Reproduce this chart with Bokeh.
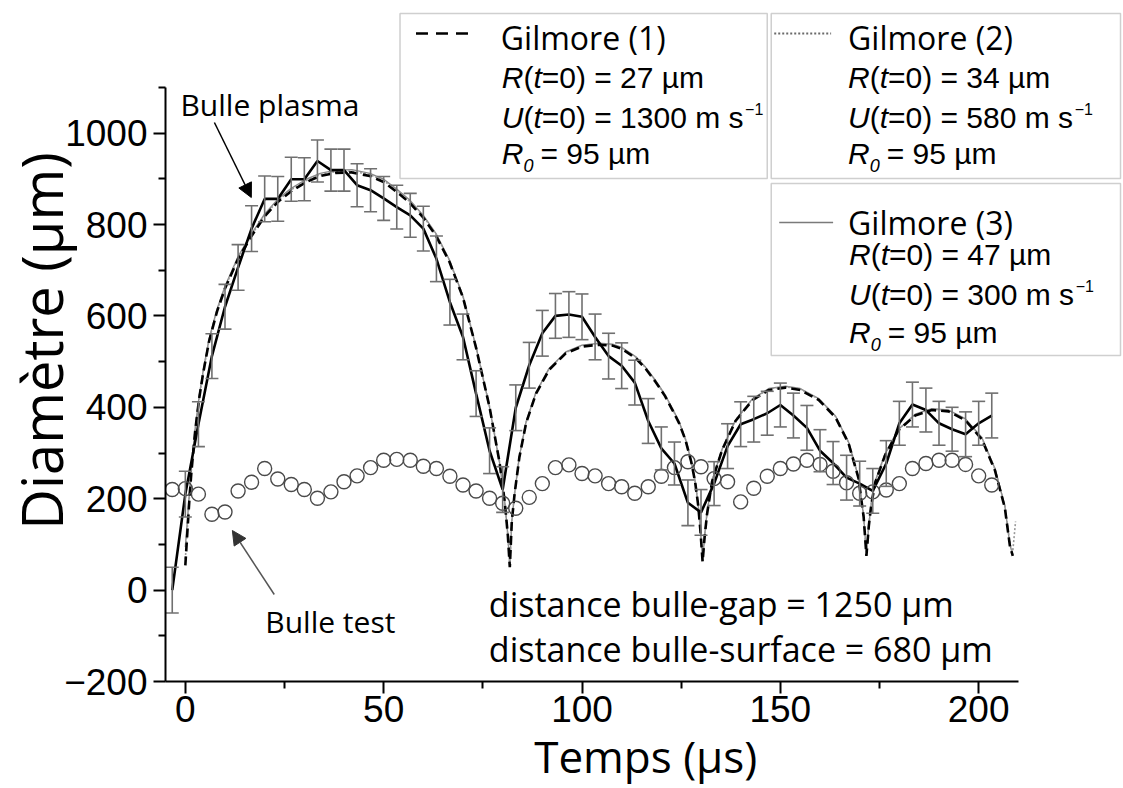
import math
from bokeh.plotting import figure
from bokeh.layouts import column
from bokeh.models import (Range1d, FixedTicker, Label, BoxAnnotation, Arrow,
                          NormalHead, Whisker, TeeHead, ColumnDataSource)
from bokeh.embed import file_html
from bokeh.resources import INLINE

# ---------------- data ----------------
t_frames = [-3.3, 0, 3.3, 6.7, 10, 13.3, 16.7, 20, 23.3, 26.7, 30, 33.3, 36.7, 40,
            43.3, 46.7, 50, 53.3, 56.7, 60, 63.3, 66.7, 70, 73.3, 76.7, 80, 83.3,
            86.7, 90, 93.3, 96.7, 100, 103.3, 106.7, 110, 113.3, 116.7, 120, 123.3,
            126.7, 130, 133.3, 136.7, 140, 143.3, 146.7, 150, 153.3, 156.7, 160,
            163.3, 166.7, 170, 173.3, 176.7, 180, 183.3, 186.7, 190, 193.3, 196.7,
            200, 203.3]

d_plasma = [0, 210, 363, 512, 620, 706, 791, 856, 856, 899, 899, 939, 919, 919, 886,
            875, 857, 838, 820, 791, 725, 630, 554, 430, 305, 220, 399, 492, 562, 600,
            603, 598, 554, 512, 491, 454, 370, 310, 277, 191, 170, 233, 315, 363, 374,
            387, 405, 382, 355, 305, 278, 246, 233, 217, 277, 365, 406, 394, 365, 352,
            341, 365, 382]

err_plasma = [50, 50, 49, 49, 49, 50, 50, 50, 49, 48, 47, 46, 46, 46, 47, 47, 48, 48,
              48, 49, 50, 50, 50, 50, 50, 50, 50, 50, 50, 49, 50, 50, 50, 50, 50, 49,
              49, 47, 47, 50, 50, 48, 49, 49, 50, 48, 48, 49, 49, 46, 47, 49, 49, 49,
              50, 48, 49, 48, 48, 48, 49, 48, 49]

d_test = [220, 222, 210, 166, 171, 217, 236, 266, 243, 231, 220, 201, 215, 237, 250,
          268, 284, 286, 284, 271, 266, 249, 230, 217, 201, 190, 179, 203, 233, 268,
          274, 255, 250, 233, 226, 212, 226, 249, 268, 281, 270, 244, 237, 193, 223,
          249, 266, 276, 284, 275, 260, 235, 212, 215, 219, 233, 266, 277, 284, 284,
          275, 250, 230]

t_gilmore = [0, 0.5, 1, 1.5, 2.5, 3.5, 4.5, 6, 8, 10, 13.3, 16.7, 20, 23.4, 26.7, 30.5,
             34, 38, 42, 46.5, 50, 53.2, 56.5, 60, 63.2, 66.6, 70, 73.3, 76.7, 79.2,
             80.5, 81.3, 81.8, 82.3, 83, 84.2, 85.9, 88.4, 91.7, 95.9, 100, 104.3,
             107.7, 110, 113.5, 116, 118.6, 120.9, 122.8, 124.5, 126.1, 127.5, 128.5,
             129.3, 129.9, 130.4, 130.9, 131.5, 132.8, 135.3, 138.7, 142.9, 147.1,
             151.3, 155, 159.7, 163.9, 167.2, 169.7, 171, 171.7, 172.3, 172.9, 173.9,
             176.4, 179.8, 184, 188.2, 192.4, 196.6, 200.8, 204.1, 206.6, 207.9, 208.6]

d_gilmore1 = [54, 125, 195, 255, 350, 420, 475, 545, 610, 660, 725, 775, 818, 850, 873,
              893, 906, 913, 914, 906, 893, 872, 848, 815, 775, 718, 640, 530, 400, 280,
              195, 120, 50, 150, 210, 290, 365, 430, 482, 518, 533, 537, 535, 528, 508,
              485, 455, 425, 394, 365, 328, 282, 238, 185, 125, 62, 115, 165, 238, 306,
              370, 415, 438, 443, 438, 416, 378, 321, 245, 160, 75, 140, 185, 235, 295,
              350, 382, 394, 391, 372, 330, 262, 180, 95, 75]

t_gilmore2 = t_gilmore + [209.3]
d_gilmore2 = [68, 135, 200, 260, 352, 422, 477, 547, 612, 662, 727, 777, 820, 853, 876,
              896, 909, 916, 917, 909, 896, 875, 851, 818, 778, 721, 643, 533, 402, 282,
              196, 121, 52, 152, 212, 292, 367, 432, 484, 520, 535, 539, 537, 530, 510,
              487, 457, 427, 396, 367, 330, 284, 240, 187, 127, 64, 117, 167, 240, 308,
              372, 417, 440, 445, 440, 418, 380, 323, 247, 162, 77, 142, 187, 237, 297,
              352, 384, 396, 393, 374, 333, 265, 185, 100, 85, 150]

d_gilmore3 = [94, 150, 210, 265, 355, 425, 480, 550, 615, 665, 730, 780, 823, 856, 879,
              899, 912, 919, 920, 912, 899, 878, 854, 820, 780, 722, 643, 532, 400, 280,
              195, 120, 55, 150, 210, 292, 368, 433, 485, 521, 536, 540, 538, 531, 511,
              488, 458, 428, 397, 368, 330, 284, 240, 186, 126, 64, 118, 168, 240, 308,
              372, 418, 441, 446, 441, 419, 381, 324, 247, 162, 78, 142, 188, 238, 298,
              352, 385, 397, 394, 375, 334, 266, 184, 98, 78]

x_major = [0, 50, 100, 150, 200]
x_minor = [25, 75, 125, 175]
y_major = [-200, 0, 200, 400, 600, 800, 1000]
y_minor = [-100, 100, 300, 500, 700, 900, 1100]

# ---------------- layout ----------------
W = 1122
ML = 163          # frame left (px)
FB = 681          # frame bottom (px)
H = 736           # main figure height (frame + tick labels)
H2 = 64           # strip below holding the x-axis title
OV = 14           # strip overlaps the (empty) bottom of the main figure
MB = H - FB
FW, FH = W - ML, FB
X0 = -5
X1 = X0 + FW / 3.975
Y0 = -200
Y1 = Y0 + FH / 0.457


def tx(px):
    """pixel -> data x (for placing annotations)"""
    return X0 + (px - ML) * (X1 - X0) / FW


def vy(py):
    """pixel -> data y (for placing annotations)"""
    return Y0 + (FH - py) * (Y1 - Y0) / FH


p = figure(width=W, height=H, x_range=Range1d(X0, X1), y_range=Range1d(Y0, Y1),
           output_backend="svg", toolbar_location=None, title=None)
p.min_border = 0
p.min_border_left = ML
p.min_border_bottom = MB
p.min_border_right = 0
p.min_border_top = 0
p.outline_line_color = None
p.grid.visible = False
p.background_fill_color = "white"

# axes
p.xaxis.ticker = FixedTicker(ticks=x_major, minor_ticks=x_minor)
p.yaxis.ticker = FixedTicker(ticks=y_major, minor_ticks=y_minor)
p.xaxis.bounds = (-5, 210)
p.yaxis.bounds = (-200, 1100)
for ax in (p.xaxis, p.yaxis):
    ax.axis_line_width = 2
    ax.axis_line_color = "black"
    ax.major_tick_line_width = 2
    ax.minor_tick_line_width = 2
    ax.major_tick_line_color = "black"
    ax.minor_tick_line_color = "black"
    ax.major_tick_out = 12
    ax.major_tick_in = 0
    ax.minor_tick_out = 7
    ax.minor_tick_in = 0
    ax.major_label_text_font = "Liberation Sans"
    ax.major_label_text_font_size = "37px"
    ax.major_label_text_color = "black"
    ax.axis_label_text_font = "Open Sans"
    ax.axis_label_text_font_style = "normal"
    ax.axis_label_text_color = "black"
p.yaxis.major_label_standoff = 6
p.xaxis.major_label_standoff = 2
p.yaxis.axis_label = "Diamètre (µm)"
p.yaxis.axis_label_text_font_size = "56px"
p.yaxis.axis_label_standoff = -18

# ---------------- marks ----------------
p.line(t_gilmore, d_gilmore3, line_color="#8a8a8a", line_width=1.4)
p.line(t_gilmore2, d_gilmore2, line_color="#9a9a9a", line_width=1.6, line_dash="2 2")
p.line(t_gilmore, d_gilmore1, line_color="black", line_width=2.6, line_dash="9 5")

src = ColumnDataSource(dict(
    t=t_frames,
    lo=[d - e for d, e in zip(d_plasma, err_plasma)],
    hi=[d + e for d, e in zip(d_plasma, err_plasma)],
))
p.add_layout(Whisker(source=src, base="t", lower="lo", upper="hi",
                     line_color="#707070", line_width=1.6,
                     upper_head=TeeHead(size=13, line_color="#707070", line_width=1.6),
                     lower_head=TeeHead(size=13, line_color="#707070", line_width=1.6),
                     level="glyph"))

p.line(t_frames, d_plasma, line_color="black", line_width=2.6)
p.scatter(t_frames, d_test, marker="circle", size=14, fill_alpha=0,
          line_color="#4a4a4a", line_width=1.4)

# legend sample lines
p.line([tx(414), tx(468)], [vy(33), vy(33)], line_color="black", line_width=2.6,
       line_dash="12 8")
p.line([tx(773), tx(830)], [vy(33), vy(33)], line_color="#6a6a6a", line_width=1.8,
       line_dash="2 2")
p.line([tx(778), tx(832)], [vy(222), vy(222)], line_color="#7a7a7a", line_width=1.6)

# legend boxes
for (l, r, t, b) in [(398, 766, 13, 178), (770, 1120, 13, 178), (770, 1120, 183, 355)]:
    p.add_layout(BoxAnnotation(left=tx(l), right=tx(r), top=vy(t), bottom=vy(b),
                               fill_alpha=0, line_color="#606060", line_width=1.5))


def lab(text, xp, yp, size, font="Open Sans", style="normal", align="left",
        angle=0.0, color="black"):
    p.add_layout(Label(x=tx(xp), y=vy(yp), text=text, text_font=font,
                       text_font_size=f"{size}px", text_font_style=style,
                       text_align=align, text_baseline="middle", angle=angle,
                       text_color=color))


ARIAL = {'=': 0.584, ')': 0.333, '(': 0.333, ' ': 0.278, 'm': 0.833, 's': 0.5,
         'µ': 0.576}


def width(text, fs):
    return sum(ARIAL.get(c, 0.556) for c in text) * fs


FS = 30


def param_line(xp, yp, letter, rest, sup=None):
    wl, wp, wt = 0.722 * FS, 0.333 * FS, 0.278 * FS
    lab(letter, xp, yp, FS, font="Liberation Sans", style="italic")
    lab("(", xp + wl, yp, FS, font="Liberation Sans")
    lab("t", xp + wl + wp, yp, FS, font="Liberation Sans", style="italic")
    lab(rest, xp + wl + wp + wt, yp, FS, font="Liberation Sans")
    if sup:
        lab(sup, xp + wl + wp + wt + width(rest, FS) + 2, yp - 9, 16,
            font="Liberation Sans")


def r0_line(xp, yp, rest):
    lab("R", xp, yp, FS, font="Liberation Sans", style="italic")
    lab("0", xp + 0.722 * FS, yp + 12, 18, font="Liberation Sans", style="italic")
    lab(rest, xp + 0.722 * FS + 17, yp, FS, font="Liberation Sans")


# legend texts
lab("Gilmore (1)", 499, 37, 32)
param_line(500, 77, "R", "=0) = 27 µm")
param_line(500, 117, "U", "=0) = 1300 m s", sup="\u22121")
r0_line(500, 153, "= 95 µm")

lab("Gilmore (2)", 847, 37, 32)
param_line(847, 77, "R", "=0) = 34 µm")
param_line(847, 117, "U", "=0) = 580 m s", sup="\u22121")
r0_line(847, 153, "= 95 µm")

lab("Gilmore (3)", 847, 222, 32)
param_line(848, 254, "R", "=0) = 47 µm")
param_line(848, 294, "U", "=0) = 300 m s", sup="\u22121")
r0_line(848, 332, "= 95 µm")

# annotations
lab("Bulle plasma", 178, 104, 30)
lab("Bulle test", 263, 621, 30)
lab("distance bulle-gap = 1250 µm", 487, 603, 34)
lab("distance bulle-surface = 680 µm", 487, 648, 34)

p.add_layout(Arrow(end=NormalHead(size=14, fill_color="black", line_color="black"),
                   x_start=tx(212), y_start=vy(122), x_end=tx(249), y_end=vy(197),
                   line_color="black", line_width=1.5))
p.add_layout(Arrow(end=NormalHead(size=14, fill_color="#333", line_color="#333"),
                   x_start=tx(272), y_start=vy(594), x_end=tx(230), y_end=vy(530),
                   line_color="#555", line_width=1.5))

# ---------------- x-axis title strip ----------------
p2 = figure(width=W, height=H2, x_range=Range1d(0, W), y_range=Range1d(0, H2),
            output_backend="svg", toolbar_location=None, title=None)
p2.min_border = 0
p2.outline_line_color = None
p2.axis.visible = False
p2.grid.visible = False
p2.background_fill_alpha = 0
p2.border_fill_alpha = 0
p2.margin = (-OV, 0, 0, 0)
p2.add_layout(Label(x=563, y=H2 / 2 - 1, text="Temps (µs)", text_font="Open Sans",
                    text_font_size="44px", text_align="center",
                    text_baseline="middle", text_color="black"))

open("out.html", "w").write(file_html(column(p, p2, spacing=0), INLINE))
